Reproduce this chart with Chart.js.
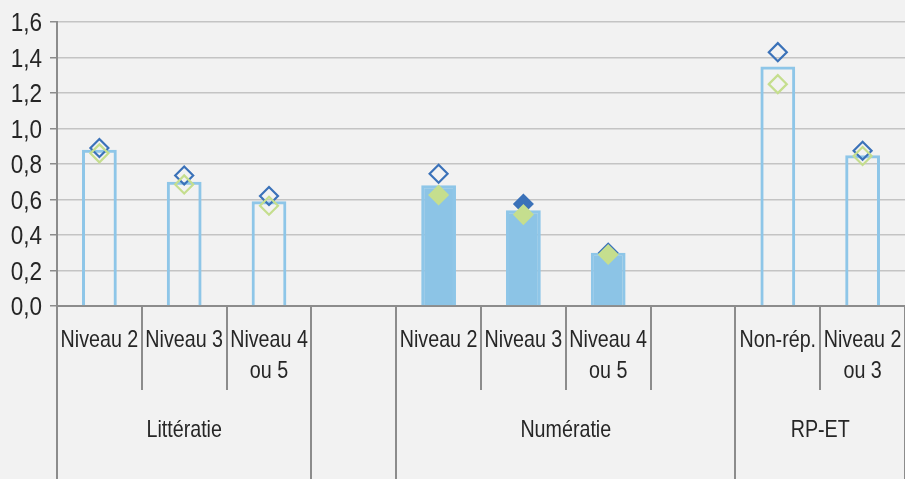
<!DOCTYPE html>
<html lang="fr">
<head>
<meta charset="utf-8">
<script src="https://cdn.jsdelivr.net/npm/chart.js@4.4.1/dist/chart.umd.min.js"></script>
<style>
    html, body { margin: 0; padding: 0; background: #f2f2f2; overflow: hidden; }
    canvas { display: block; }
</style>
</head>
<body>
<canvas id="graphique" width="905" height="479"></canvas>
<script>
// --- Données ---
const categories = [
    ['Niveau 2'], ['Niveau 3'], ['Niveau 4', 'ou 5'], [''],
    ['Niveau 2'], ['Niveau 3'], ['Niveau 4', 'ou 5'], [''],
    ['Non-rép.'], ['Niveau 2', 'ou 3']
];
const groupes = ['Littératie', '', 'Numératie', 'RP-ET'];
const tailleGroupes = [3, 1, 4, 2];

const valeursBarres = [0.88, 0.70, 0.59, null, 0.68, 0.54, 0.30, null, 1.35, 0.85];
const valeursBleu   = [0.89, 0.735, 0.62, null, 0.745, 0.575, 0.30, null, 1.43, 0.875];
const valeursVert   = [0.86, 0.685, 0.565, null, 0.625, 0.515, 0.29, null, 1.25, 0.845];

const graduationsY = [0, 0.2, 0.4, 0.6, 0.8, 1.0, 1.2, 1.4, 1.6];

// --- Styles ---
const POLICE = "'Liberation Sans', Arimo, Arial, sans-serif";
const FOND = '#f2f2f2';
const BLEU_CLAIR = '#8ec6e8';
const BLEU = '#3b72b9';
const VERT = '#c5de8e';
const GRIS_AXE = '#8c8c8c';
const TEXTE = '#262626';

// index des catégories dont les marques sont pleines (groupe Numératie)
const debutNum = tailleGroupes[0] + tailleGroupes[1];
const estPlein = categories.map((c, i) => i >= debutNum && i < debutNum + 3);
const fondBarres = estPlein.map(p => p ? '#8cc4e6' : 'rgba(0,0,0,0)');
const fondVert = estPlein.map(p => p ? VERT : 'rgba(0,0,0,0)');
const fondBleu = categories.map((c, i) => i === debutNum + 1 ? BLEU : 'rgba(0,0,0,0)');

Chart.defaults.font.family = POLICE;
Chart.defaults.color = TEXTE;

// texte "condensé" : police normale compressée horizontalement
function texteEtroit(ctx, txt, x, y, align, echelle) {
    ctx.save();
    ctx.translate(x, y);
    ctx.scale(echelle, 1);
    ctx.textAlign = align;
    ctx.fillText(txt, 0, 0);
    ctx.restore();
}

const fondCanvas = {
    id: 'fondCanvas',
    beforeDraw(chart) {
        const ctx = chart.ctx;
        ctx.save();
        ctx.fillStyle = FOND;
        ctx.fillRect(0, 0, chart.width, chart.height);
        ctx.restore();
    }
};

// étiquettes de l'axe Y + axe des catégories à deux niveaux (niveaux + groupes)
const axeMultiNiveaux = {
    id: 'axeMultiNiveaux',
    afterDraw(chart) {
        const { ctx, chartArea, scales: { x, y } } = chart;
        const largeur = (chartArea.right - chartArea.left) / categories.length;
        const y0 = chartArea.bottom;
        const bornes = [0];
        tailleGroupes.forEach(t => bornes.push(bornes[bornes.length - 1] + t));

        ctx.save();
        ctx.strokeStyle = GRIS_AXE;
        ctx.lineWidth = 2;
        for (let i = 0; i <= categories.length; i++) {
            const xb = Math.round(chartArea.left + i * largeur);
            const longue = bornes.includes(i);
            ctx.beginPath();
            ctx.moveTo(xb, y0);
            ctx.lineTo(xb, longue ? chart.height : y0 + 84);
            ctx.stroke();
        }

        ctx.fillStyle = TEXTE;
        ctx.textBaseline = 'alphabetic';

        ctx.font = '25px ' + POLICE;
        graduationsY.forEach(v => {
            texteEtroit(ctx, v.toFixed(1).replace('.', ','), 42, y.getPixelForValue(v) + 9, 'right', 0.9);
        });

        ctx.font = '24px ' + POLICE;
        categories.forEach((lignes, i) => {
            const cx = x.getPixelForValue(i);
            lignes.forEach((ligne, j) => texteEtroit(ctx, ligne, cx, y0 + 41 + j * 31, 'center', 0.82));
        });
        groupes.forEach((g, k) => {
            const cx = chartArea.left + (bornes[k] + bornes[k + 1]) / 2 * largeur;
            texteEtroit(ctx, g, cx, y0 + 131, 'center', 0.82);
        });
        ctx.restore();
    }
};

const ctx = document.getElementById('graphique').getContext('2d');
new Chart(ctx, {
    data: {
        labels: categories.map(c => c.join(' ')),
        datasets: [
            {
                type: 'line',
                label: 'vert',
                data: valeursVert,
                order: 0,
                showLine: false,
                pointStyle: 'rectRot',
                pointRadius: 9,
                pointBorderWidth: 2.2,
                pointBorderColor: VERT,
                pointBackgroundColor: fondVert
            },
            {
                type: 'line',
                label: 'bleu',
                data: valeursBleu,
                order: 1,
                showLine: false,
                pointStyle: 'rectRot',
                pointRadius: 9,
                pointBorderWidth: 2.2,
                pointBorderColor: BLEU,
                pointBackgroundColor: fondBleu
            },
            {
                type: 'bar',
                label: 'barres',
                data: valeursBarres,
                order: 2,
                backgroundColor: fondBarres,
                borderColor: BLEU_CLAIR,
                borderWidth: 3,
                barPercentage: 0.41,
                categoryPercentage: 1
            }
        ]
    },
    options: {
        responsive: false,
        animation: false,
        events: [],
        layout: { autoPadding: false, padding: { top: 22, right: 0, bottom: 173, left: 0 } },
        plugins: {
            legend: { display: false },
            tooltip: { enabled: false }
        },
        scales: {
            x: {
                type: 'category',
                offset: true,
                grid: { display: false, drawTicks: false },
                ticks: { display: false },
                border: { display: true, color: GRIS_AXE, width: 2 }
            },
            y: {
                type: 'linear',
                min: 0,
                max: 1.6,
                afterFit: s => { s.width = 57; },
                afterBuildTicks: s => { s.ticks = graduationsY.map(v => ({ value: v })); },
                ticks: { display: false },
                grid: { color: '#c4c4c4', lineWidth: 1.5, tickLength: 7, tickColor: GRIS_AXE },
                border: { display: true, color: GRIS_AXE, width: 2 }
            }
        }
    },
    plugins: [fondCanvas, axeMultiNiveaux]
});
</script>
</body>
</html>
